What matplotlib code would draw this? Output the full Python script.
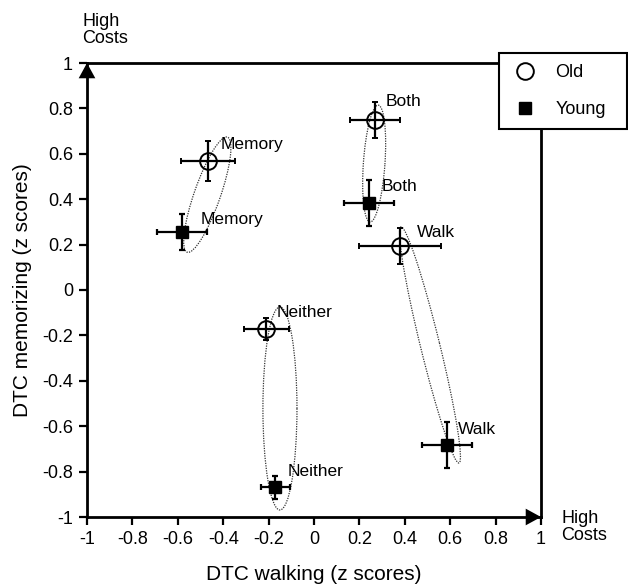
import matplotlib
matplotlib.use("Agg")
import matplotlib.pyplot as plt
from matplotlib.patches import Ellipse
from matplotlib.lines import Line2D

plt.rcParams['font.family'] = ['Liberation Sans', 'DejaVu Sans']

# task conditions and group means (z scores)
labels = ["Memory", "Both", "Walk", "Neither"]
old_x = [-0.467, 0.269, 0.379, -0.21]
old_y = [0.568, 0.749, 0.194, -0.172]
old_xerr = [0.12, 0.11, 0.18, 0.10]
old_yerr = [0.09, 0.08, 0.08, 0.05]
young_x = [-0.58, 0.242, 0.585, -0.17]
young_y = [0.255, 0.383, -0.683, -0.869]
young_xerr = [0.11, 0.11, 0.11, 0.065]
young_yerr = [0.08, 0.10, 0.10, 0.05]

# label offsets (data units)
old_lab_dx = [0.056, 0.048, 0.073, 0.046]
old_lab_dy = [0.072, 0.081, 0.058, 0.074]
young_lab_dx = [0.082, 0.056, 0.048, 0.052]
young_lab_dy = [0.055, 0.072, 0.069, 0.069]

# dotted ellipses: centre x, centre y, length, width, angle
ell_cx = [-0.47, 0.265, 0.511, -0.15]
ell_cy = [0.42, 0.557, -0.242, -0.522]
ell_len = [0.537, 0.516, 1.071, 0.894]
ell_wid = [0.115, 0.095, 0.085, 0.15]
ell_ang = [70.7, 86.0, 103.8, 90.0]

ticks = [-1, -0.8, -0.6, -0.4, -0.2, 0, 0.2, 0.4, 0.6, 0.8, 1]
tick_labels = ["-1", "-0.8", "-0.6", "-0.4", "-0.2", "0", "0.2", "0.4", "0.6", "0.8", "1"]

fig = plt.figure(figsize=(6.28, 5.85), dpi=100)
ax = fig.add_axes([87 / 628, 1 - 517 / 585, 454 / 628, 454 / 585])

for i in range(len(labels)):
    e = Ellipse((ell_cx[i], ell_cy[i]), ell_len[i], ell_wid[i], angle=ell_ang[i],
                fill=False, linestyle=(0, (1, 1)), linewidth=0.9, edgecolor='#333333')
    ax.add_patch(e)

ax.errorbar(old_x, old_y, xerr=old_xerr, yerr=old_yerr, fmt='o', mfc='none', mec='black',
            mew=1.4, ms=12, color='black', elinewidth=1.6, capsize=2.5, capthick=1.6,
            zorder=3)
ax.errorbar(young_x, young_y, xerr=young_xerr, yerr=young_yerr, fmt='s', mfc='black',
            mec='black', ms=9, color='black', elinewidth=1.6, capsize=2.5, capthick=1.6,
            zorder=3)

for i, lab in enumerate(labels):
    ax.text(old_x[i] + old_lab_dx[i], old_y[i] + old_lab_dy[i], lab, fontsize=12.5,
            va='center', ha='left')
    ax.text(young_x[i] + young_lab_dx[i], young_y[i] + young_lab_dy[i], lab, fontsize=12.5,
            va='center', ha='left')

ax.set_xlim(-1, 1)
ax.set_ylim(-1, 1)
ax.set_xticks(ticks)
ax.set_xticklabels(tick_labels)
ax.set_yticks(ticks)
ax.set_yticklabels(tick_labels)
ax.tick_params(direction='out', length=6, width=1.6, labelsize=13, pad=4)
for s in ax.spines.values():
    s.set_linewidth(2)

# arrow heads at the axis ends
arrow = dict(arrowstyle='-|>,head_length=0.55,head_width=0.3', mutation_scale=20,
             color='black', lw=0, shrinkA=0, shrinkB=0)
ax.annotate('', xy=(-1, 1), xytext=(-1, 0.9), arrowprops=arrow, annotation_clip=False)
ax.annotate('', xy=(1, -1), xytext=(0.9, -1), arrowprops=arrow, annotation_clip=False)

ax.text(-1.02, 1.072, "High\nCosts", fontsize=13, ha='left', va='bottom',
        linespacing=1.0)
ax.text(1.09, -1.045, "High\nCosts", fontsize=13, ha='left', va='center',
        linespacing=1.0)

ax.set_xlabel("DTC walking (z scores)", fontsize=15, labelpad=12)
ax.set_ylabel("DTC memorizing (z scores)", fontsize=15, labelpad=7)

handles = [Line2D([], [], marker='o', ls='none', mfc='none', mec='black', mew=1.4, ms=12),
           Line2D([], [], marker='s', ls='none', mfc='black', mec='black', ms=9)]
leg = ax.legend(handles, ["Old", "Young"], loc='upper left', mode='expand',
                bbox_to_anchor=(499 / 628, 1 - 126 / 585, 128 / 628, 73 / 585),
                bbox_transform=fig.transFigure, frameon=True, fancybox=False,
                edgecolor='black', fontsize=13, borderaxespad=0, handletextpad=0.9,
                borderpad=0.62, labelspacing=1.1, handlelength=1.6)
leg.get_frame().set_linewidth(1.5)
leg.get_frame().set_alpha(1)
leg.set_zorder(10)

fig.savefig("out.png", dpi=100)
